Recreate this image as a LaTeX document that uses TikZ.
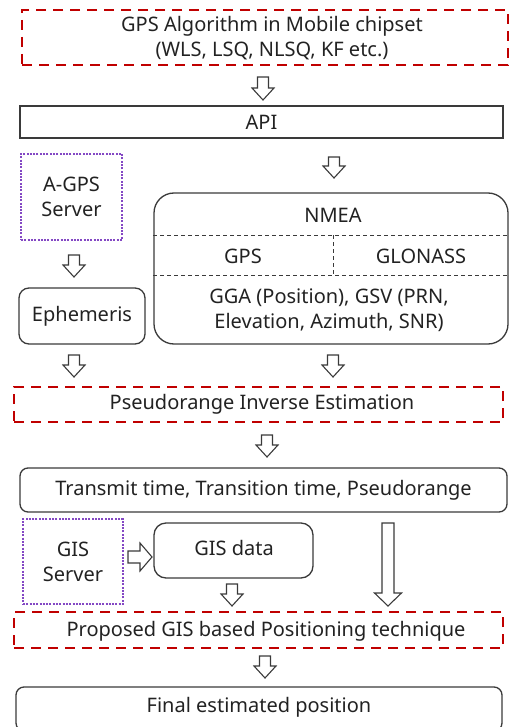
\documentclass[tikz,border=0pt]{standalone}
\usepackage{fontspec}
\setmainfont{Noto Sans}
\definecolor{redd}{HTML}{C00000}
\definecolor{purp}{HTML}{8448C4}
\definecolor{linec}{HTML}{3A3A3A}
\definecolor{txtc}{HTML}{222222}
\newcommand\blkdown[3]{% x, top, bottom
  \draw[blkarrow] ({#1-5.5},#2) -- ({#1+5.5},#2) -- ({#1+5.5},{#3-12}) -- ({#1+11},{#3-12}) -- (#1,#3) -- ({#1-11},{#3-12}) -- ({#1-5.5},{#3-12}) -- cycle;}
\begin{document}
\begin{tikzpicture}[x=1pt,y=-1pt,
  every node/.style={text=txtc,font=\fontsize{20}{25}\selectfont,inner sep=0pt,align=center},
  plain/.style={draw=linec,line width=1.3pt},
  rbox/.style={plain,rounded corners=#1},
  reddash/.style={draw=redd,line width=2.6pt,dash pattern=on 10pt off 7pt},
  purpdot/.style={draw=purp,line width=1.1pt,dash pattern=on 2pt off 1.3pt},
  thindash/.style={draw=linec,line width=0.9pt,dash pattern=on 4pt off 3pt},
  blkarrow/.style={draw=linec,line width=1.1pt,fill=white,line join=miter},
  lbl/.style={draw=none}]
\useasboundingbox (0,0) rectangle (509,727);
\clip (0,0) rectangle (509,727);
% boxes
\node[reddash,minimum width=486pt,minimum height=55pt] (alg) at (265,37.5) {};
\node at (272,38) (algtxt) {GPS Algorithm in Mobile chipset\\(WLS, LSQ, NLSQ, KF etc.)};
\node[plain,minimum width=483pt,minimum height=32pt] (api) at (261.5,122) {API};
\node[purpdot,minimum width=101pt,minimum height=86pt] (agps) at (71.5,197) {A-GPS\\Server};
\node[rbox=20pt,minimum width=354pt,minimum height=151pt] (nmea) at (331,268.5) {};
\node (nmeat) at (333,215) {NMEA};
\coordinate (d1) at (333,235);
\coordinate (d2) at (333,275);
\draw[thindash] (nmea.west |- d1) -- (nmea.east |- d1);
\draw[thindash] (nmea.west |- d2) -- (nmea.east |- d2);
\draw[thindash] (d1) -- (d2);
\node (gps) at (243,256) {GPS};
\node (glo) at (421,256) {GLONASS};
\node (gga) at (329,310) {GGA (Position), GSV (PRN,\\Elevation, Azimuth, SNR)};
\node[rbox=10pt,minimum width=126pt,minimum height=56pt] (eph) at (82,316) {Ephemeris};
\node[reddash,minimum width=489pt,minimum height=35pt] (pie) at (258.5,404.5) {};
\node (piet) at (262,404) {Pseudorange Inverse Estimation};
\node[rbox=8pt,minimum width=487pt,minimum height=44pt] (tt) at (263.5,490) {Transmit time, Transition time, Pseudorange};
\node[purpdot,minimum width=100pt,minimum height=85pt] (giss) at (73,561.5) {GIS\\Server};
\node[rbox=12pt,minimum width=159pt,minimum height=55pt] (gisd) at (233.5,550.5) {};
\node (gisdt) at (234,548) {GIS data};
\node[reddash,minimum width=489pt,minimum height=36pt] (prop) at (258.5,630) {};
\node (propt) at (266,631) {Proposed GIS based Positioning technique};
\node[rbox=8pt,minimum width=486pt,minimum height=44pt] (fin) at (259,709) {};
\node (fint) at (259,707) {Final estimated position};
% block arrows
\blkdown{263}{77}{100}
\blkdown{334}{157}{178}
\blkdown{74}{255}{277}
\blkdown{74}{355}{377}
\blkdown{333}{355}{377}
\blkdown{267}{435}{457}
\blkdown{232}{584}{606}
\blkdown{265}{656}{678}
\draw[blkarrow] (382,523) -- (394,523) -- (394,593) -- (401.5,593) -- (388,606) -- (374.5,593) -- (382,593) -- cycle;
\draw[blkarrow] (128,551) -- (140,551) -- (140,543) -- (152,557) -- (140,571) -- (140,563) -- (128,563) -- cycle;
\end{tikzpicture}
\end{document}
